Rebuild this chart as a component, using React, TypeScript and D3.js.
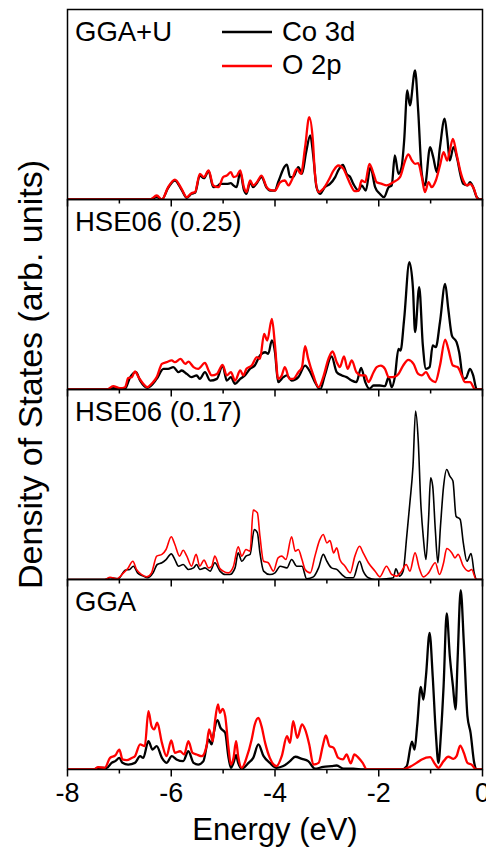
import React from "react";
import * as d3 from "d3";

type Pt = [number, number];

// Energy axis ticks (eV)
const majorTicks = [-8, -6, -4, -2, 0];
const minorTicks = [-7, -5, -3, -1];

const panelNames = ["GGA+U", "HSE06 (0.25)", "HSE06 (0.17)", "GGA"];
const seriesNames = ["Co 3d", "O 2p"];
const seriesColors = ["#000000", "#ff0000"];

// Partial DOS, [energy (eV), DOS (arb. units)]
const ggaUCo: Pt[] = [
  [-8, 0], [-6.41, 0], [-6.28, 1.2], [-6.18, 0], [-6.06, 6.1], [-5.93, 10], [-5.8, 5.1], [-5.7, 0.9],
  [-5.61, 3], [-5.54, 3.5], [-5.45, 12.6], [-5.37, 11.2], [-5.28, 14.9], [-5.19, 6.5], [-5.09, 7.4],
  [-5.06, 8.2], [-4.93, 8.2], [-4.85, 8.6], [-4.8, 7.4], [-4.74, 6.5], [-4.67, 14.4], [-4.6, 5.1],
  [-4.55, 3], [-4.48, 9.1], [-4.42, 6.5], [-4.35, 8.6], [-4.26, 11.8], [-4.16, 6.1], [-4.1, 4.7],
  [-4.0, 4.7], [-3.94, 9.1], [-3.77, 18.4], [-3.71, 11.8], [-3.65, 11.8], [-3.55, 17], [-3.48, 13.5],
  [-3.4, 24.9], [-3.32, 33.7], [-3.26, 22.3], [-3.2, 6.5], [-3.13, 3], [-3.04, 6.5], [-2.94, 8.2],
  [-2.84, 11.8], [-2.78, 15.3], [-2.69, 18.2], [-2.62, 13.5], [-2.55, 11.8], [-2.49, 8.2], [-2.39, 4.7],
  [-2.33, 7.4], [-2.25, 4.7], [-2.16, 17], [-2.07, 6.5], [-1.98, 3], [-1.9, 1.2], [-1.81, 6.5],
  [-1.75, 7.4], [-1.69, 23.2], [-1.62, 13.5], [-1.56, 17], [-1.51, 31.1], [-1.45, 57.4], [-1.4, 49.5],
  [-1.3, 67.9], [-1.24, 46.8], [-1.17, 13.5], [-1.11, 7.4], [-1.01, 27.5], [-0.95, 22.3], [-0.88, 14.4],
  [-0.82, 27.5], [-0.73, 42.5], [-0.68, 32.8], [-0.63, 20.5], [-0.56, 27.5], [-0.48, 20.5], [-0.43, 13.5],
  [-0.37, 8.2], [-0.29, 7.4], [-0.24, 9.1], [-0.18, 6.5], [-0.11, 1.2], [-0.05, 0], [0, 0],
];
const ggaUO: Pt[] = [
  [-8, 0], [-6.41, 0], [-6.28, 2.1], [-6.18, 0], [-6.06, 6.5], [-5.93, 10.5], [-5.8, 5.6], [-5.7, 1.2],
  [-5.61, 3.3], [-5.54, 3.9], [-5.45, 13.5], [-5.37, 11.8], [-5.28, 15.3], [-5.19, 7.4], [-5.09, 6.5],
  [-5.0, 11.8], [-4.93, 12.6], [-4.85, 14.4], [-4.8, 11.8], [-4.74, 12.3], [-4.67, 15.3], [-4.6, 6.5],
  [-4.55, 3.9], [-4.48, 10], [-4.42, 7.4], [-4.35, 9.1], [-4.26, 12.6], [-4.16, 6.5], [-4.1, 5.1],
  [-4.0, 4.7], [-3.9, 9.1], [-3.81, 10], [-3.74, 7.4], [-3.68, 10], [-3.58, 16.1], [-3.5, 13.5],
  [-3.42, 27.5], [-3.34, 43.3], [-3.27, 31.1], [-3.23, 13.5], [-3.16, 3.9], [-3.07, 5.6], [-2.97, 10],
  [-2.87, 15.3], [-2.78, 17.9], [-2.68, 16.1], [-2.62, 12.6], [-2.55, 8.2], [-2.46, 4.4], [-2.39, 4.7],
  [-2.33, 10], [-2.26, 9.1], [-2.18, 18.8], [-2.1, 13.5], [-2.04, 9.1], [-1.94, 8.2], [-1.85, 7.4],
  [-1.72, 9.1], [-1.59, 11.8], [-1.49, 20.5], [-1.43, 23.7], [-1.36, 20.5], [-1.3, 18.8], [-1.24, 19.1],
  [-1.17, 11.8], [-1.11, 3.9], [-1.04, 9.1], [-0.98, 6.5], [-0.9, 10], [-0.82, 17.9], [-0.75, 24.9],
  [-0.68, 20.5], [-0.63, 25.8], [-0.57, 31.9], [-0.5, 24], [-0.43, 15.3], [-0.37, 10], [-0.29, 7.4],
  [-0.24, 8.2], [-0.18, 6.5], [-0.08, 0], [0, 0],
];

const hse25Co: Pt[] = [
  [-8, 0], [-7.24, 0], [-7.12, 0.7], [-6.89, 0.4], [-6.8, 6], [-6.68, 9.1], [-6.6, 4.7], [-6.46, 0.9],
  [-6.28, 5.6], [-6.15, 10.9], [-6.06, 10.9], [-5.96, 11.8], [-5.86, 9.1], [-5.8, 10], [-5.7, 8.2],
  [-5.61, 6.5], [-5.51, 7.4], [-5.45, 5.6], [-5.35, 9.1], [-5.25, 4.7], [-5.12, 5.6], [-5.01, 12.6],
  [-4.93, 4.7], [-4.85, 6.5], [-4.77, 3], [-4.67, 5.6], [-4.58, 7.4], [-4.48, 10.9], [-4.39, 12.6],
  [-4.29, 17.9], [-4.19, 19.6], [-4.13, 18.8], [-4.06, 25.8], [-4.0, 19.6], [-3.94, 3.9], [-3.84, 6.5],
  [-3.77, 7.4], [-3.68, 4.7], [-3.55, 6.5], [-3.42, 12.6], [-3.32, 9.1], [-3.23, 3.9], [-3.13, 0],
  [-3.04, 7.4], [-2.91, 17.4], [-2.81, 9.1], [-2.71, 7.4], [-2.62, 6.5], [-2.52, 4.7], [-2.43, 3.9],
  [-2.34, 11.4], [-2.26, 3.9], [-2.18, 0.4], [-2.1, 2.1], [-1.98, 2.1], [-1.88, 1.8], [-1.81, 6.5],
  [-1.75, 1.2], [-1.69, 6.5], [-1.62, 21.4], [-1.58, 20.5], [-1.51, 37.2], [-1.41, 67], [-1.34, 53],
  [-1.3, 30.2], [-1.22, 53.9], [-1.15, 23.2], [-1.09, 10.9], [-1.02, 11.8], [-0.96, 23.2], [-0.9, 22.3],
  [-0.82, 35.4], [-0.72, 55.6], [-0.66, 42.5], [-0.59, 28.4], [-0.5, 24.9], [-0.45, 19.6], [-0.37, 5.6],
  [-0.32, 6], [-0.24, 10.9], [-0.18, 7.4], [-0.11, 0], [0, 0],
];
const hse25O: Pt[] = [
  [-8, 0], [-7.24, 0], [-7.12, 1.8], [-6.99, 0.7], [-6.89, 1.2], [-6.83, 6], [-6.76, 6.5], [-6.7, 9.5],
  [-6.63, 6.5], [-6.54, 3], [-6.46, 1.2], [-6.38, 3], [-6.28, 6.5], [-6.18, 13.5], [-6.09, 14.4],
  [-5.99, 15.3], [-5.93, 14.4], [-5.82, 16.1], [-5.73, 13.5], [-5.67, 14.7], [-5.57, 11.8], [-5.48, 10.9],
  [-5.35, 14], [-5.28, 10], [-5.22, 7.4], [-5.12, 8.2], [-5.01, 13], [-4.93, 7.4], [-4.85, 9.1],
  [-4.77, 4.7], [-4.67, 10], [-4.61, 7.4], [-4.55, 10.9], [-4.45, 12.6], [-4.35, 17], [-4.29, 16.1],
  [-4.21, 29.3], [-4.15, 25.8], [-4.06, 37.2], [-4.0, 23.2], [-3.94, 5.6], [-3.87, 7.4], [-3.81, 11.8],
  [-3.72, 5.6], [-3.65, 5.6], [-3.55, 9.1], [-3.48, 11.8], [-3.42, 22.8], [-3.36, 16.1], [-3.26, 7.4],
  [-3.16, 1.2], [-3.07, 6.5], [-2.97, 16.1], [-2.89, 20], [-2.81, 14.4], [-2.75, 11.8], [-2.67, 17.4],
  [-2.6, 10.9], [-2.52, 15.3], [-2.43, 9.1], [-2.33, 7.4], [-2.26, 7.4], [-2.2, 3.9], [-2.1, 9.1],
  [-2.04, 11.8], [-1.96, 12.6], [-1.88, 10.9], [-1.81, 6.5], [-1.72, 6.5], [-1.62, 8.2], [-1.53, 12.6],
  [-1.43, 15.6], [-1.33, 13.5], [-1.24, 8.2], [-1.17, 7.4], [-1.09, 9.1], [-1.01, 5.6], [-0.91, 3.9],
  [-0.82, 12.6], [-0.72, 26.3], [-0.66, 21.4], [-0.57, 12.6], [-0.48, 11.8], [-0.4, 7.4], [-0.34, 3.9],
  [-0.24, 3.9], [-0.14, 0], [0, 0],
];

const hse17Co: Pt[] = [
  [-8, 0], [-7.28, 0], [-7.18, 0.9], [-7.02, 0.4], [-6.89, 4.9], [-6.8, 5.3], [-6.73, 7], [-6.65, 3.5],
  [-6.54, 1.8], [-6.46, 0.9], [-6.35, 3.5], [-6.27, 7.9], [-6.18, 8.8], [-6.1, 10.5], [-6.0, 13.5],
  [-5.93, 10.5], [-5.86, 7], [-5.77, 7.9], [-5.67, 5.3], [-5.57, 6.1], [-5.51, 7.9], [-5.45, 5.3],
  [-5.35, 6.1], [-5.25, 4.4], [-5.16, 8.8], [-5.06, 4.4], [-4.96, 2.6], [-4.87, 2.6], [-4.77, 6.1],
  [-4.71, 14], [-4.64, 9.6], [-4.56, 12.3], [-4.48, 13.2], [-4.4, 26.3], [-4.34, 24.6], [-4.29, 14],
  [-4.22, 4.4], [-4.1, 2.6], [-4.0, 3.5], [-3.9, 7], [-3.77, 6.1], [-3.68, 10.5], [-3.58, 7], [-3.48, 7],
  [-3.39, 0.4], [-3.26, 1.4], [-3.16, 6.1], [-3.07, 13.2], [-3.0, 9.6], [-2.91, 6.1], [-2.81, 5.3],
  [-2.71, 2.6], [-2.62, 0.9], [-2.49, 0.9], [-2.37, 9.6], [-2.3, 4.4], [-2.2, 0.9], [-2.07, 0],
  [-1.85, 0.4], [-1.72, 0.9], [-1.67, 5.6], [-1.6, 1.8], [-1.53, 4.4], [-1.46, 22.8], [-1.4, 40.4],
  [-1.34, 59.6], [-1.29, 88.6], [-1.24, 73.7], [-1.19, 40.4], [-1.14, 21.9], [-1.09, 10.5], [-1.04, 31.6],
  [-1.0, 53.5], [-0.96, 49.1], [-0.91, 26.3], [-0.86, 8.8], [-0.81, 28.1], [-0.75, 49.1], [-0.69, 57.9],
  [-0.63, 54.4], [-0.57, 51.8], [-0.51, 33.3], [-0.43, 31.6], [-0.37, 19.3], [-0.3, 9.6], [-0.22, 13.7],
  [-0.16, 3.5], [-0.11, 0], [0, 0],
];
const hse17O: Pt[] = [
  [-8, 0], [-7.28, 0], [-7.18, 1.2], [-7.05, 0.4], [-6.92, 3.5], [-6.83, 6.1], [-6.74, 9.6], [-6.67, 5.3],
  [-6.57, 2.6], [-6.47, 1.4], [-6.38, 3.5], [-6.28, 12.3], [-6.18, 13.2], [-6.1, 15.8], [-6.0, 22.5],
  [-5.93, 18.4], [-5.84, 12.3], [-5.77, 15.4], [-5.7, 12.3], [-5.61, 7], [-5.52, 13.2], [-5.45, 7],
  [-5.37, 10.2], [-5.28, 6.1], [-5.22, 7], [-5.16, 12.3], [-5.07, 6.1], [-5.0, 4.4], [-4.9, 3.5],
  [-4.8, 7], [-4.71, 17.2], [-4.64, 12.3], [-4.56, 15.8], [-4.48, 14.9], [-4.42, 36.5], [-4.34, 35.1],
  [-4.29, 22.8], [-4.22, 9.6], [-4.13, 8.8], [-4.03, 4.4], [-3.94, 11.4], [-3.87, 12.3], [-3.79, 10.5],
  [-3.68, 22.5], [-3.61, 14.9], [-3.55, 15.8], [-3.48, 10.5], [-3.42, 5.3], [-3.32, 3.5], [-3.23, 12.3],
  [-3.14, 20.7], [-3.07, 23.7], [-3.0, 19.3], [-2.94, 20.5], [-2.87, 14], [-2.81, 16.7], [-2.75, 10.5],
  [-2.65, 7], [-2.55, 3.5], [-2.46, 12.3], [-2.37, 17.5], [-2.3, 14], [-2.2, 8.8], [-2.07, 4.4],
  [-1.98, 1.4], [-1.85, 7], [-1.75, 2.6], [-1.65, 1.8], [-1.56, 4.4], [-1.47, 7.9], [-1.4, 4.4],
  [-1.3, 14], [-1.22, 6.1], [-1.14, 1.4], [-1.04, 3.5], [-0.91, 8.8], [-0.83, 2.6], [-0.75, 8.8],
  [-0.69, 16.3], [-0.59, 14], [-0.53, 11.4], [-0.47, 13.2], [-0.37, 7], [-0.27, 4.4], [-0.21, 5.3],
  [-0.12, 0], [0, 0],
];

const ggaCo: Pt[] = [
  [-8, 0], [-7.5, 0], [-7.41, 0.9], [-7.24, 0.9], [-7.15, 3.5], [-7.08, 4.4], [-7.0, 6.1], [-6.94, 3.5],
  [-6.83, 2.6], [-6.7, 3.5], [-6.6, 7], [-6.54, 6.1], [-6.44, 14.9], [-6.36, 10.5], [-6.28, 12.3],
  [-6.18, 6.1], [-6.09, 3.5], [-5.99, 7], [-5.9, 5.3], [-5.77, 4.4], [-5.67, 9.6], [-5.57, 3.5],
  [-5.48, 2.6], [-5.38, 4.4], [-5.28, 15.8], [-5.22, 13.2], [-5.18, 19.3], [-5.11, 26], [-5.05, 21.9],
  [-4.96, 19.3], [-4.9, 7], [-4.85, 0.9], [-4.8, 3.5], [-4.75, 7.5], [-4.71, 3.5], [-4.64, 0.4],
  [-4.51, 3.5], [-4.42, 6.1], [-4.32, 13.2], [-4.22, 7], [-4.1, 3.5], [-3.97, 0.9], [-3.84, 1.8],
  [-3.71, 4.4], [-3.61, 6.7], [-3.48, 5.6], [-3.36, 4.4], [-3.23, 0.4], [-3.07, 1.4], [-2.91, 1.8],
  [-2.81, 2.1], [-2.68, 0.4], [-2.49, 0.4], [-2.3, 0], [-1.56, 0], [-1.46, 1.8], [-1.36, 14.6],
  [-1.31, 10.5], [-1.26, 22.8], [-1.19, 43.5], [-1.14, 36.8], [-1.09, 49.1], [-1.02, 71.9], [-0.96, 49.1],
  [-0.9, 19.3], [-0.85, 3.5], [-0.8, 19.3], [-0.75, 43.9], [-0.69, 82.1], [-0.63, 59.6], [-0.57, 43.9],
  [-0.52, 31.6], [-0.48, 57.9], [-0.42, 94.4], [-0.36, 66.7], [-0.29, 28.1], [-0.23, 19.3], [-0.16, 3.5],
  [-0.11, 0], [0, 0],
];
const ggaO: Pt[] = [
  [-8, 0], [-7.5, 0], [-7.41, 1.2], [-7.28, 0.9], [-7.18, 6.1], [-7.08, 7.4], [-7.0, 10.5], [-6.94, 5.3],
  [-6.86, 4.9], [-6.76, 6.1], [-6.7, 7], [-6.6, 13.2], [-6.51, 12.3], [-6.44, 30.7], [-6.38, 22.8],
  [-6.33, 21.1], [-6.27, 24.6], [-6.18, 14], [-6.09, 7], [-6.0, 15.3], [-5.93, 8.8], [-5.83, 9.6],
  [-5.75, 7.9], [-5.67, 14.9], [-5.59, 8.8], [-5.51, 7.9], [-5.41, 7], [-5.32, 12.3], [-5.27, 21.1],
  [-5.2, 14.9], [-5.16, 24.6], [-5.1, 34.2], [-5.06, 29.8], [-5.01, 31.9], [-4.96, 28.1], [-4.9, 12.3],
  [-4.85, 2.6], [-4.8, 6.1], [-4.75, 14.9], [-4.71, 7], [-4.64, 0.9], [-4.55, 6.1], [-4.45, 15.8],
  [-4.39, 23.7], [-4.32, 27.2], [-4.26, 22.8], [-4.19, 14], [-4.1, 6.1], [-3.97, 1.8], [-3.87, 7],
  [-3.77, 17.5], [-3.71, 14], [-3.65, 25.4], [-3.57, 16.7], [-3.48, 23.7], [-3.42, 21.1], [-3.34, 13.2],
  [-3.26, 2.6], [-3.16, 3.5], [-3.08, 12.3], [-3.02, 17.9], [-2.95, 12.3], [-2.87, 11.4], [-2.78, 6.1],
  [-2.69, 5.3], [-2.62, 7.9], [-2.54, 3.2], [-2.47, 7.9], [-2.39, 6.1], [-2.31, 3.5], [-2.23, 0],
  [-1.56, 0], [-1.4, 1.4], [-1.27, 3.5], [-1.17, 5.3], [-1.01, 6.5], [-0.91, 2.6], [-0.85, 0.9],
  [-0.75, 4.4], [-0.66, 6.7], [-0.56, 5.6], [-0.5, 7], [-0.43, 12.6], [-0.36, 8.8], [-0.29, 3.5],
  [-0.21, 2.6], [-0.12, 0], [0, 0],
];

const panelSeries: Pt[][][] = [
  [ggaUCo, ggaUO],
  [hse25Co, hse25O],
  [hse17Co, hse17O],
  [ggaCo, ggaO],
];

const W = 486;
const H = 848;
const left = 67.5;
const right = 482.5;
const top = 9.5;
const panelH = 190;
const bottom = top + panelH * panelNames.length;
const font = "'Liberation Sans', Arial, sans-serif";

export default function App() {
  const x = d3.scaleLinear().domain([-8, 0]).range([left, right]);

  return (
    <svg
      width={W}
      height={H}
      style={{ position: "absolute", left: 0, top: 0, background: "#fff" }}
      fontFamily={font}
    >
      <defs>
        {panelNames.map((_, i) => (
          <clipPath id={`clip-${i}`} key={i}>
            <rect x={left} y={top + i * panelH} width={right - left} height={panelH} />
          </clipPath>
        ))}
      </defs>

      {panelNames.map((name, i) => {
        const y0 = top + i * panelH;
        const y = d3.scaleLinear().domain([0, 100]).range([y0 + panelH, y0]);
        const line = d3
          .line<Pt>()
          .x((d) => x(d[0]))
          .y((d) => y(d[1]))
          .curve(d3.curveMonotoneX);
        const sw = i === 2 ? 1.6 : 2.3;
        return (
          <g key={name}>
            <g clipPath={`url(#clip-${i})`}>
              {panelSeries[i].map((s, k) => (
                <path
                  key={k}
                  d={line(s) ?? ""}
                  fill="none"
                  stroke={seriesColors[k]}
                  strokeWidth={sw}
                  strokeLinejoin="round"
                />
              ))}
            </g>
            <text x={75} y={y0 + 31} fontSize={27.5} fill="#000">
              {name}
            </text>
            {/* ticks hang below each panel's lower edge */}
            {majorTicks.map((t) => (
              <line
                key={`M${t}`}
                x1={x(t)}
                x2={x(t)}
                y1={y0 + panelH}
                y2={y0 + panelH + 7}
                stroke="#000"
                strokeWidth={1.5}
              />
            ))}
            {minorTicks.map((t) => (
              <line
                key={`m${t}`}
                x1={x(t)}
                x2={x(t)}
                y1={y0 + panelH}
                y2={y0 + panelH + 4}
                stroke="#000"
                strokeWidth={1.5}
              />
            ))}
            <rect
              x={left}
              y={y0}
              width={right - left}
              height={panelH}
              fill="none"
              stroke="#000"
              strokeWidth={1.5}
            />
          </g>
        );
      })}

      {/* legend */}
      {seriesNames.map((n, k) => (
        <g key={n}>
          <line
            x1={222}
            x2={272}
            y1={32 + k * 34}
            y2={32 + k * 34}
            stroke={seriesColors[k]}
            strokeWidth={2.3}
          />
          <text x={282} y={41 + k * 33} fontSize={27.5} fill="#000">
            {n}
          </text>
        </g>
      ))}

      {majorTicks.map((t) => (
        <text key={t} x={x(t)} y={802} fontSize={27} textAnchor="middle" fill="#000">
          {t === 0 ? "0" : `-${Math.abs(t)}`}
        </text>
      ))}
      <text x={(left + right) / 2} y={840} fontSize={31} textAnchor="middle" fill="#000">
        Energy (eV)
      </text>
      <text
        transform={`translate(42, ${(top + bottom) / 2 - 15}) rotate(-90)`}
        fontSize={34}
        textAnchor="middle"
        fill="#000"
      >
        Density of States (arb. units)
      </text>
    </svg>
  );
}
